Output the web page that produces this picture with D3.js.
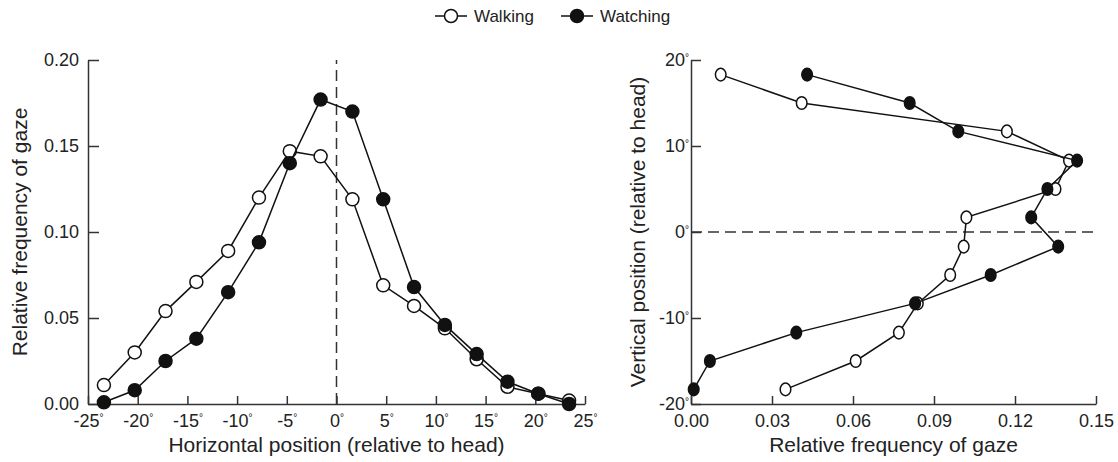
<!DOCTYPE html>
<meta charset="utf-8">
<head>
	<style>
		html, body { margin: 0; padding: 0; background: white; }
		svg { display: block; font-family: "Liberation Sans", Arial, sans-serif; }
		.axis path, .axis line { stroke: #333; stroke-width: 1.5; }
		.axis text { fill: #222; font-size: 18px; font-family: "Liberation Sans", Arial, sans-serif; }
		.title { fill: #222; font-size: 21px; }
		.legend text { fill: #222; font-size: 17px; }
		.series { fill: none; stroke: #111; stroke-width: 1.5; }
	</style>
	<script src="https://cdnjs.cloudflare.com/ajax/libs/d3/7.8.5/d3.min.js"></script>
</head>
<body>
	<script>

	// DATA
	// left panel: horizontal bins (deg) and relative frequency
	var hAngle = [-23.4, -20.3, -17.2, -14.1, -10.9, -7.8, -4.7, -1.6, 1.6, 4.7, 7.8, 10.9, 14.1, 17.2, 20.3, 23.4];
	var hWalking = [0.011, 0.030, 0.054, 0.071, 0.089, 0.120, 0.147, 0.144, 0.119, 0.069, 0.057, 0.044, 0.026, 0.010, 0.006, 0.002];
	var hWatching = [0.001, 0.008, 0.025, 0.038, 0.065, 0.094, 0.140, 0.177, 0.170, 0.119, 0.068, 0.046, 0.029, 0.013, 0.006, 0.000];

	// right panel: vertical bins (deg) and relative frequency
	var vAngle = [18.3, 15.0, 11.7, 8.3, 5.0, 1.7, -1.7, -5.0, -8.3, -11.7, -15.0, -18.3];
	var vWalking = [0.011, 0.041, 0.117, 0.140, 0.135, 0.102, 0.101, 0.096, 0.084, 0.077, 0.061, 0.035];
	var vWatching = [0.043, 0.081, 0.099, 0.143, 0.132, 0.126, 0.136, 0.111, 0.083, 0.039, 0.007, 0.001];

	var hTicks = [-25, -20, -15, -10, -5, 0, 5, 10, 15, 20, 25];
	var freqTicksLeft = [0, 0.05, 0.10, 0.15, 0.20];
	var freqTicksRight = [0, 0.03, 0.06, 0.09, 0.12, 0.15];
	var vTicks = [-20, -10, 0, 10, 20];

	var seriesNames = ['Walking', 'Watching'];

	// SETUP
	var svg = d3.select('body').append('svg')
		.attr('width', 1118)
		.attr('height', 462);

	// tick labels with a small raised degree sign
	function degLabels(sel) {
		sel.selectAll('.tick text').each(function(d) {
			var t = d3.select(this);
			t.text(String(d));
			t.append('tspan')
				.attr('font-size', '10px')
				.attr('dy', '-0.55em')
				.text('°');
		});
	}

	// LEFT PANEL
	var xL = d3.scaleLinear().domain([-25, 25]).range([88, 585]);
	var yL = d3.scaleLinear().domain([0, 0.20]).range([404, 60]);

	var gL = svg.append('g');

	gL.append('g')
		.attr('class', 'axis')
		.attr('transform', 'translate(0,' + yL(0) + ')')
		.call(d3.axisBottom(xL).tickValues(hTicks).tickSizeInner(-8).tickSizeOuter(0).tickPadding(10))
		.call(degLabels);

	gL.append('g')
		.attr('class', 'axis')
		.attr('transform', 'translate(' + xL(-25) + ',0)')
		.call(d3.axisLeft(yL).tickValues(freqTicksLeft).tickSizeInner(-11).tickSizeOuter(0).tickPadding(9)
			.tickFormat(d3.format('.2f')));

	gL.append('line')
		.attr('x1', xL(0)).attr('x2', xL(0))
		.attr('y1', yL(0)).attr('y2', yL(0.20))
		.attr('stroke', '#333').attr('stroke-width', 1.5)
		.attr('stroke-dasharray', '11,6');

	var lineL = d3.line()
		.x(function(d) { return xL(d[0]); })
		.y(function(d) { return yL(d[1]); });

	[hWalking, hWatching].forEach(function(vals, i) {
		var pts = hAngle.map(function(a, j) { return [a, vals[j]]; });
		gL.append('path').attr('class', 'series').attr('d', lineL(pts));
		gL.selectAll('.pt' + i).data(pts).enter().append('circle')
			.attr('class', 'pt' + i)
			.attr('cx', function(d) { return xL(d[0]); })
			.attr('cy', function(d) { return yL(d[1]); })
			.attr('r', 6.5)
			.attr('fill', i === 0 ? 'white' : '#111')
			.attr('stroke', '#111')
			.attr('stroke-width', 1.5);
	});

	gL.append('text')
		.attr('class', 'title')
		.attr('x', (xL(-25) + xL(25)) / 2)
		.attr('y', 452)
		.attr('text-anchor', 'middle')
		.text('Horizontal position (relative to head)');

	gL.append('text')
		.attr('class', 'title')
		.attr('transform', 'translate(27,' + (yL(0) + yL(0.2)) / 2 + ') rotate(-90)')
		.attr('text-anchor', 'middle')
		.text('Relative frequency of gaze');

	// RIGHT PANEL
	var xR = d3.scaleLinear().domain([0, 0.15]).range([691, 1096]);
	var yR = d3.scaleLinear().domain([-20, 20]).range([404, 60]);

	var gR = svg.append('g');

	gR.append('g')
		.attr('class', 'axis')
		.attr('transform', 'translate(0,' + yR(-20) + ')')
		.call(d3.axisBottom(xR).tickValues(freqTicksRight).tickSizeInner(-8).tickSizeOuter(0).tickPadding(10)
			.tickFormat(d3.format('.2f')));

	gR.append('g')
		.attr('class', 'axis')
		.attr('transform', 'translate(' + xR(0) + ',0)')
		.call(d3.axisLeft(yR).tickValues(vTicks).tickSizeInner(-10).tickSizeOuter(0).tickPadding(2))
		.call(degLabels);

	gR.append('line')
		.attr('x1', xR(0)).attr('x2', xR(0.15))
		.attr('y1', yR(0)).attr('y2', yR(0))
		.attr('stroke', '#333').attr('stroke-width', 1.5)
		.attr('stroke-dasharray', '11,6');

	var lineR = d3.line()
		.x(function(d) { return xR(d[1]); })
		.y(function(d) { return yR(d[0]); });

	[vWalking, vWatching].forEach(function(vals, i) {
		var pts = vAngle.map(function(a, j) { return [a, vals[j]]; });
		gR.append('path').attr('class', 'series').attr('d', lineR(pts));
		gR.selectAll('.pt' + i).data(pts).enter().append('ellipse')
			.attr('class', 'pt' + i)
			.attr('cx', function(d) { return xR(d[1]); })
			.attr('cy', function(d) { return yR(d[0]); })
			.attr('rx', 5.3)
			.attr('ry', 6.3)
			.attr('fill', i === 0 ? 'white' : '#111')
			.attr('stroke', '#111')
			.attr('stroke-width', 1.5);
	});

	gR.append('text')
		.attr('class', 'title')
		.attr('x', (xR(0) + xR(0.15)) / 2)
		.attr('y', 452)
		.attr('text-anchor', 'middle')
		.text('Relative frequency of gaze');

	gR.append('text')
		.attr('class', 'title')
		.attr('transform', 'translate(645,' + (yR(-20) + yR(20)) / 2 + ') rotate(-90)')
		.attr('text-anchor', 'middle')
		.text('Vertical position (relative to head)');

	// LEGEND
	var legend = svg.append('g').attr('class', 'legend');
	var legendX = [435, 561];
	seriesNames.forEach(function(name, i) {
		var g = legend.append('g').attr('transform', 'translate(' + legendX[i] + ',16)');
		g.append('line').attr('x1', 0).attr('x2', 32).attr('y1', 0).attr('y2', 0)
			.attr('stroke', '#111').attr('stroke-width', 1.5);
		g.append('circle').attr('cx', 16).attr('cy', 0).attr('r', 6.5)
			.attr('fill', i === 0 ? 'white' : '#111')
			.attr('stroke', '#111').attr('stroke-width', 1.5);
		g.append('text').attr('x', 39).attr('y', 6).text(name);
	});

	</script>
</body>
